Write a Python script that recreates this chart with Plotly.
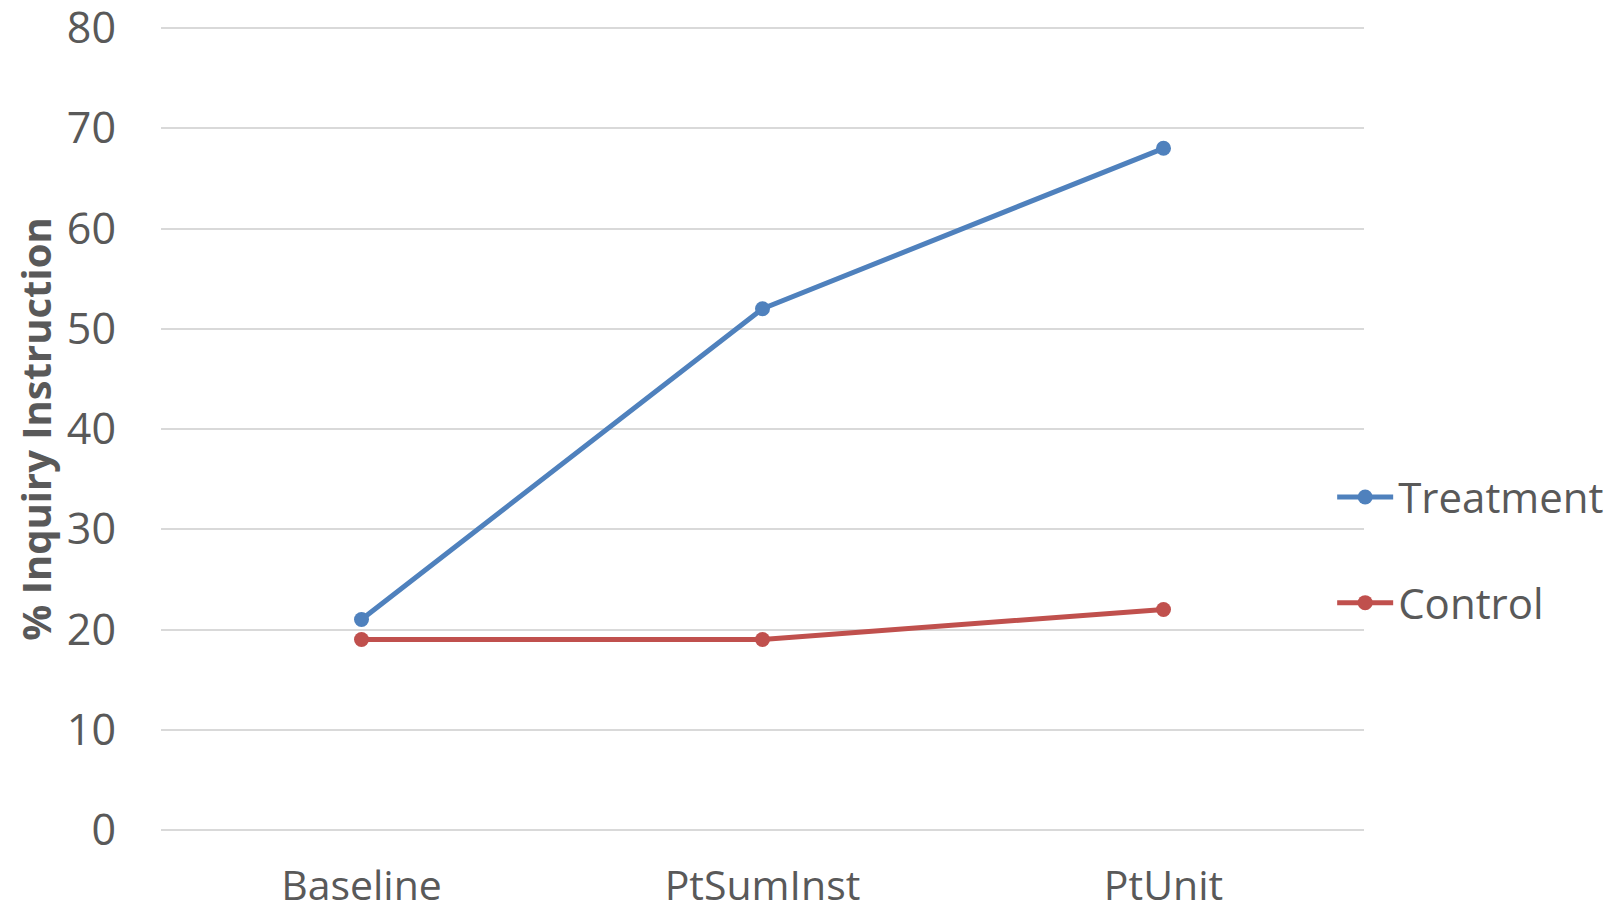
import plotly.graph_objects as go

categories = ["Baseline", "PtSumInst", "PtUnit"]
treatment = [21, 52, 68]
control = [19, 19, 22]
y_ticks = [0, 10, 20, 30, 40, 50, 60, 70, 80]

FONT = "Open Sans"
TXT = "#595959"

fig = go.Figure()
fig.add_trace(go.Scatter(
    x=categories, y=treatment, name="Treatment", mode="lines+markers",
    line=dict(color="#4F81BD", width=5), marker=dict(size=15, color="#4F81BD"),
    legendgroup="t"))
fig.add_trace(go.Scatter(
    x=categories, y=control, name="Control", mode="lines+markers",
    line=dict(color="#C0504D", width=5), marker=dict(size=15, color="#C0504D"),
    legendgroup="c"))

# page body adds an 8px offset; figure is sized to fit the 1615x914 window
fig.update_layout(
    width=1607, height=906,
    margin=dict(l=153, r=251, t=17, b=81, autoexpand=False),
    paper_bgcolor="white", plot_bgcolor="white",
    font=dict(family=FONT, color=TXT, size=43),
    showlegend=True,
    legend=dict(xref="container", yref="container",
                x=0.824, xanchor="left", y=0.4015, yanchor="middle",
                font=dict(size=42, color=TXT), tracegroupgap=48,
                itemwidth=56, bgcolor="rgba(0,0,0,0)"),
)
fig.update_xaxes(
    type="category", range=[-0.5, 2.5], showgrid=False, zeroline=False,
    showline=False, ticks="", ticklabelstandoff=25, automargin=False,
    tickfont=dict(size=41, color=TXT, family=FONT))
fig.update_yaxes(
    range=[-0.3, 80.3], tickvals=y_ticks, showgrid=True, gridcolor="#D9D9D9",
    gridwidth=2, zeroline=False, showline=False, ticks="", ticklabelstandoff=44,
    ticklabeloverflow="allow", automargin=False,
    tickfont=dict(size=43, color=TXT, family=FONT),
    title=dict(text="<b>% Inquiry Instruction</b>", standoff=9,
               font=dict(size=40, color=TXT, family=FONT)))

fig.write_html("out.html")
